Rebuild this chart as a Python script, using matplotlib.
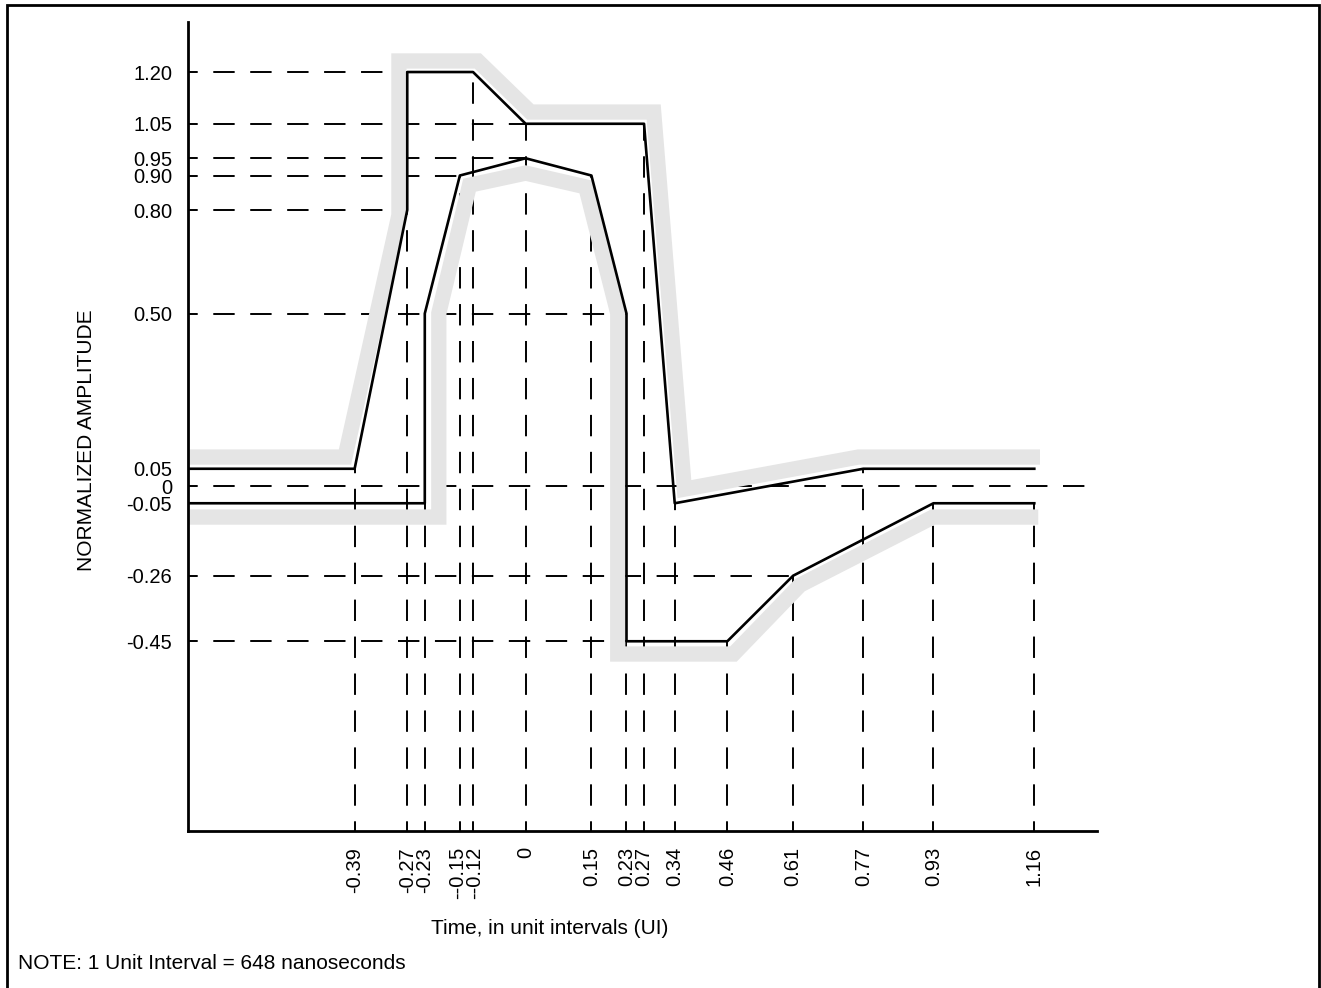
import matplotlib
matplotlib.use('Agg')
import matplotlib.pyplot as plt
import matplotlib.transforms as mtransforms
from matplotlib.patches import Rectangle

plt.rcParams['font.family'] = ['Liberation Sans', 'DejaVu Sans']

# mask limits (black lines)
upper_x = [-0.77, -0.39, -0.27, -0.27, -0.12, 0.0, 0.27, 0.34, 0.77, 1.16]
upper_y = [0.05, 0.05, 0.80, 1.20, 1.20, 1.05, 1.05, -0.05, 0.05, 0.05]
lower_x = [-0.77, -0.23, -0.23, -0.15, 0.0, 0.15, 0.23, 0.23, 0.46, 0.61, 0.93, 1.16]
lower_y = [-0.05, -0.05, 0.50, 0.90, 0.95, 0.90, 0.50, -0.45, -0.45, -0.26, -0.05, -0.05]

# grey shadow bands outside the mask
upper_shade_x = [-0.77, -0.412, -0.289, -0.289, -0.109, 0.011, 0.292, 0.362, 0.759, 1.173]
upper_shade_y = [0.084, 0.084, 0.785, 1.232, 1.232, 1.084, 1.084, -0.009, 0.084, 0.084]
lower_shade_x = [-0.77, -0.198, -0.198, -0.128, 0.0, 0.137, 0.210, 0.210, 0.474, 0.626, 0.929, 1.169]
lower_shade_y = [-0.090, -0.090, 0.501, 0.872, 0.907, 0.867, 0.501, -0.487, -0.487, -0.287, -0.090, -0.090]

# tick values and how far each dashed guide runs
y_ticks = [1.20, 1.05, 0.95, 0.90, 0.80, 0.50, 0.05, 0, -0.05, -0.26, -0.45]
y_labels = ['1.20', '1.05', '0.95', '0.90', '0.80', '0.50', '0.05', '0', '-0.05', '-0.26', '-0.45']
y_guide_end = [-0.27, 0.0, 0.0, -0.15, -0.27, 0.23, -0.39, 1.303, -0.23, 0.61, 0.23]

x_ticks = [-0.39, -0.27, -0.23, -0.15, -0.12, 0, 0.15, 0.23, 0.27, 0.34, 0.46, 0.61, 0.77, 0.93, 1.16]
x_labels = ['-0.39', '-0.27', '-0.23', '--0.15', '--0.12', '0', '0.15', '0.23', '0.27',
            '0.34', '0.46', '0.61', '0.77', '0.93', '1.16']
x_guide_end = [0.05, 0.80, -0.05, 0.90, 1.20, 1.05, 0.90, -0.45, 1.05, -0.05, -0.45, -0.26, 0.05, -0.05, -0.05]

xmin, xmax = -0.77, 1.303
ymin, ymax = -1.0, 1.345

fig = plt.figure(figsize=(13.21, 9.88), dpi=100)
ax = fig.add_axes([188 / 1321, 1 - 831 / 988, 909 / 1321, 809 / 988])

dash_kw = dict(color='black', lw=1.4, linestyle=(6, (11, 8)), zorder=1)
for yv, xe in zip(y_ticks, y_guide_end):
    ax.plot([xmin, xe], [yv, yv], **dash_kw)
for xv, ye in zip(x_ticks, x_guide_end):
    ax.plot([xv, xv], [ymin, ye], **dash_kw)

shade = '#e5e5e5'
ax.plot(upper_shade_x, upper_shade_y, color=shade, lw=11, solid_joinstyle='miter',
        solid_capstyle='butt', zorder=2)
ax.plot(lower_shade_x, lower_shade_y, color=shade, lw=11, solid_joinstyle='miter',
        solid_capstyle='butt', zorder=2)

ax.plot(upper_x, upper_y, color='black', lw=1.9, zorder=3)
ax.plot(lower_x, lower_y, color='black', lw=1.9, zorder=3)

ax.set_xlim(xmin, xmax)
ax.set_ylim(ymin, ymax)
ax.set_xticks(x_ticks)
ax.set_xticklabels(x_labels, rotation=90, fontsize=14.5)
ax.set_yticks(y_ticks)
ax.set_yticklabels(y_labels, fontsize=14.5)
ax.tick_params(length=0, pad=11.5)

# the two crowded labels get pushed a hair apart
for lbl, dx in zip(ax.get_xticklabels()[3:5], [-2, 2]):
    lbl.set_transform(lbl.get_transform() +
                      mtransforms.ScaledTranslation(dx / 100, 0, fig.dpi_scale_trans))

for side in ['top', 'right']:
    ax.spines[side].set_visible(False)
for side in ['left', 'bottom']:
    ax.spines[side].set_linewidth(2.0)

fig.text(87 / 1321, 1 - 440 / 988, 'NORMALIZED AMPLITUDE', rotation=90,
         ha='center', va='center', fontsize=15)
fig.text(550 / 1321, 1 - 928 / 988, 'Time, in unit intervals (UI)',
         ha='center', va='center', fontsize=15)
fig.text(18 / 1321, 1 - 963 / 988, 'NOTE: 1 Unit Interval = 648 nanoseconds',
         ha='left', va='center', fontsize=15)

# frame around the whole figure (bottom edge runs off the page)
fig.patches.append(Rectangle((7 / 1321, -0.02), 1312 / 1321, 1.02 - 5 / 988,
                             transform=fig.transFigure, fill=False,
                             edgecolor='black', lw=2.0))

fig.savefig('out.png', dpi=100)
